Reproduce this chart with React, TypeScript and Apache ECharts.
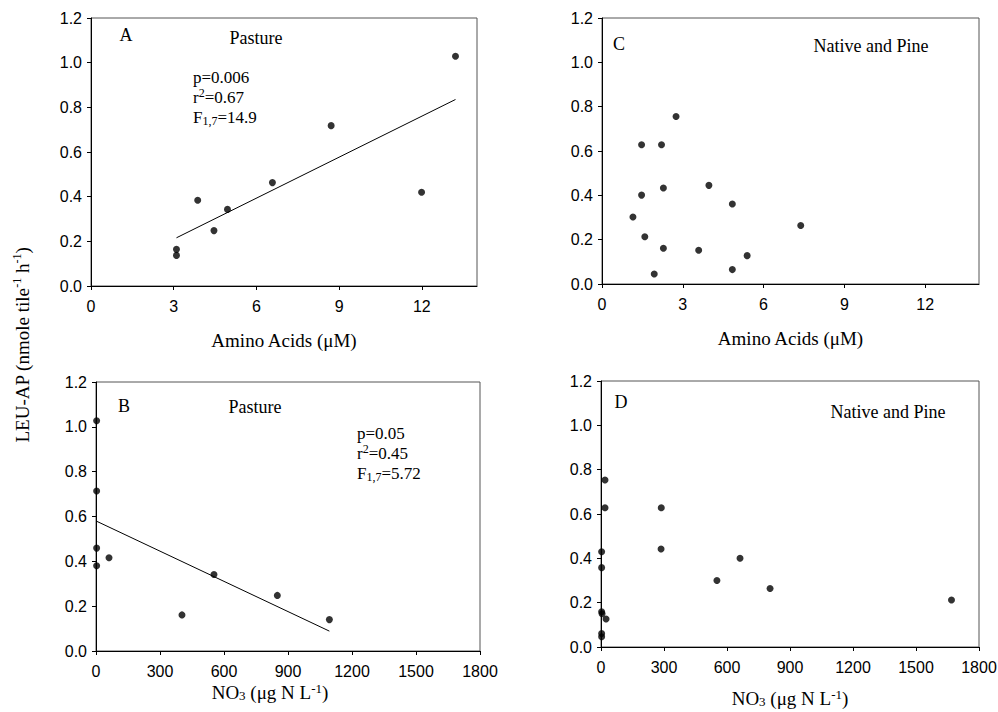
import React, { useEffect, useRef } from "react";
import * as echarts from "echarts";

// Tick values
const aminoTicks = [0, 3, 6, 9, 12];
const nitrateTicks = [0, 300, 600, 900, 1200, 1500, 1800];

// Panel A – Pasture, LEU-AP vs amino acids
const pastureAminoA = [3.1, 3.1, 3.87, 4.46, 4.95, 6.58, 8.71, 11.99, 13.22];
const pastureLeuA = [0.164, 0.137, 0.384, 0.248, 0.343, 0.463, 0.718, 0.42, 1.029];

// Panel B – Pasture, LEU-AP vs NO3
const pastureNitrateB = [3, 3, 3, 3, 61, 403, 553, 850, 1094];
const pastureLeuB = [1.027, 0.714, 0.459, 0.38, 0.416, 0.161, 0.341, 0.248, 0.14];

// Panel C – Native and Pine, LEU-AP vs amino acids
const nativeAminoC = [2.75, 1.47, 2.21, 2.28, 1.47, 3.97, 4.84, 1.15, 7.38, 1.59, 2.28, 3.59, 5.39, 4.84, 1.94];
const nativeLeuC = [0.756, 0.628, 0.628, 0.433, 0.401, 0.445, 0.361, 0.302, 0.264, 0.213, 0.161, 0.152, 0.128, 0.065, 0.045];

// Panel D – Native and Pine, LEU-AP vs NO3
const nativeNitrateD = [19, 19, 3, 3, 287, 286, 662, 552, 805, 1669, 3, 5, 24, 3, 3];
const nativeLeuD = [0.753, 0.628, 0.43, 0.358, 0.628, 0.442, 0.4, 0.3, 0.264, 0.212, 0.159, 0.15, 0.126, 0.061, 0.046];

const SERIF = "'Liberation Serif', 'Times New Roman', Times, serif";
const SANS = "'Liberation Sans', Arial, Helvetica, sans-serif";

function pairs(xs: number[], ys: number[]) {
  return xs.map((x, i) => [x, ys[i]]);
}

function fitLine(xs: number[], ys: number[]) {
  const n = xs.length;
  const mx = xs.reduce((a, b) => a + b, 0) / n;
  const my = ys.reduce((a, b) => a + b, 0) / n;
  let sxy = 0;
  let sxx = 0;
  for (let i = 0; i < n; i++) {
    sxy += (xs[i] - mx) * (ys[i] - my);
    sxx += (xs[i] - mx) * (xs[i] - mx);
  }
  const b = sxy / sxx;
  const a = my - b * mx;
  const x0 = Math.min(...xs);
  const x1 = Math.max(...xs);
  return [
    [x0, a + b * x0],
    [x1, a + b * x1],
  ];
}

const subStyle = { fontFamily: SERIF, fontSize: 12, lineHeight: 10, verticalAlign: "bottom", color: "#000", fill: "#000" };
const supStyle = { fontFamily: SERIF, fontSize: 12, lineHeight: 10, verticalAlign: "top", color: "#000", fill: "#000" };

function buildOption() {
  const grids = [
    { left: 91, top: 18, width: 386, height: 268 },
    { left: 96, top: 382, width: 384, height: 269 },
    { left: 602, top: 18, width: 377, height: 266 },
    { left: 601, top: 381, width: 378, height: 266 },
  ].map((g) => ({
    ...g,
    show: true,
    borderColor: "#555",
    borderWidth: 1,
    containLabel: false,
    outerBoundsMode: "none",
  }));

  const axisCommon = {
    axisLine: { show: true, onZero: false, lineStyle: { color: "#000", width: 1 } },
    axisTick: { show: true, inside: false, length: 4, lineStyle: { color: "#000", width: 1 } },
    splitLine: { show: false },
  };

  const nameRich = {
    sub: { ...subStyle, fontSize: 13, lineHeight: 12 },
    sup: { ...supStyle, fontSize: 13, lineHeight: 12 },
  };

  const xAmino = (gridIndex: number, gap: number) => ({
    type: "value",
    gridIndex,
    min: 0,
    max: 14,
    interval: 3,
    ...axisCommon,
    axisTick: { ...axisCommon.axisTick, customValues: aminoTicks },
    axisLabel: {
      customValues: aminoTicks,
      margin: 12,
      fontFamily: SANS,
      fontSize: 16,
      color: "#000",
      formatter: (v: number) => String(v),
    },
    name: "Amino Acids (μM)",
    nameLocation: "middle",
    nameGap: gap,
    nameTextStyle: { fontFamily: SERIF, fontSize: 19, color: "#000", lineHeight: 20 },
  });

  const xNitrate = (gridIndex: number, gap: number, padRight: number) => ({
    type: "value",
    gridIndex,
    min: 0,
    max: 1800,
    interval: 300,
    ...axisCommon,
    axisTick: { ...axisCommon.axisTick, customValues: nitrateTicks },
    axisLabel: {
      customValues: nitrateTicks,
      margin: 12,
      fontFamily: SANS,
      fontSize: 16,
      color: "#000",
      formatter: (v: number) => String(v),
    },
    name: "NO{sub|3} (μg N L{sup|-1})",
    nameLocation: "middle",
    nameGap: gap,
    nameTextStyle: {
      fontFamily: SERIF,
      fontSize: 19,
      color: "#000",
      lineHeight: 20,
      padding: [0, padRight, 0, 0],
      rich: nameRich,
    },
  });

  const yLeu = (gridIndex: number) => ({
    type: "value",
    gridIndex,
    min: 0,
    max: 1.2,
    interval: 0.2,
    ...axisCommon,
    axisLabel: {
      margin: 9,
      fontFamily: SANS,
      fontSize: 16,
      color: "#000",
      formatter: (v: number) => v.toFixed(1),
    },
  });

  const scatter = (idx: number, xs: number[], ys: number[]) => ({
    type: "scatter",
    xAxisIndex: idx,
    yAxisIndex: idx,
    data: pairs(xs, ys),
    symbol: "circle",
    symbolSize: 7,
    itemStyle: { color: "#000" },
    z: 3,
  });

  const regression = (idx: number, xs: number[], ys: number[]) => ({
    type: "line",
    xAxisIndex: idx,
    yAxisIndex: idx,
    data: fitLine(xs, ys),
    symbol: "none",
    lineStyle: { color: "#000", width: 1 },
    z: 2,
  });

  const txt = (text: string, x: number, y: number, size: number, align = "center", vAlign = "middle", extra: any = {}) => ({
    type: "text",
    x,
    y,
    silent: true,
    style: {
      text,
      fontFamily: SERIF,
      fontSize: size,
      fill: "#000",
      align,
      verticalAlign: vAlign,
      ...(extra.styleExtra || {}),
    },
  });

  const statRich = {
    sub: { ...subStyle },
    sup: { ...supStyle },
  };

  const graphic = [
    // Shared y-axis title
    {
      type: "text",
      x: 22,
      y: 345,
      rotation: Math.PI / 2,
      silent: true,
      style: {
        text: "LEU-AP (nmole tile{sup|-1} h{sup|-1})",
        fontFamily: SERIF,
        fontSize: 19,
        lineHeight: 22,
        fill: "#000",
        align: "center",
        verticalAlign: "middle",
        rich: { sup: { ...supStyle, fontSize: 12, lineHeight: 11 } },
      },
    },
    // Panel A
    txt("A", 126, 35, 18),
    txt("Pasture", 256, 38, 18),
    txt("p=0.006\nr{sup|2}=0.67\nF{sub|1,7}=14.9", 193, 67, 17, "left", "top", {
      styleExtra: { lineHeight: 20, rich: statRich },
    }),
    // Panel B
    txt("B", 124, 406, 18),
    txt("Pasture", 255, 407, 18),
    txt("p=0.05\nr{sup|2}=0.45\nF{sub|1,7}=5.72", 357, 423, 17, "left", "top", {
      styleExtra: { lineHeight: 20, rich: statRich },
    }),
    // Panel C
    txt("C", 619, 44, 18),
    txt("Native and Pine", 871, 46, 18),
    // Panel D
    txt("D", 621, 402, 18),
    txt("Native and Pine", 888, 412, 18),
  ];

  return {
    animation: false,
    backgroundColor: "#fff",
    grid: grids,
    xAxis: [xAmino(0, 44), xNitrate(1, 31, 36), xAmino(2, 44), xNitrate(3, 41, 0)],
    yAxis: [yLeu(0), yLeu(1), yLeu(2), yLeu(3)],
    series: [
      scatter(0, pastureAminoA, pastureLeuA),
      regression(0, pastureAminoA, pastureLeuA),
      scatter(1, pastureNitrateB, pastureLeuB),
      regression(1, pastureNitrateB, pastureLeuB),
      scatter(2, nativeAminoC, nativeLeuC),
      scatter(3, nativeNitrateD, nativeLeuD),
    ],
    graphic,
  };
}

export default function App() {
  const ref = useRef<HTMLDivElement>(null);
  useEffect(() => {
    document.body.style.margin = "0";
    if (!ref.current) return;
    const chart = echarts.init(ref.current, undefined, { renderer: "svg" });
    chart.setOption(buildOption() as any);
    return () => {
      chart.dispose();
    };
  }, []);
  return <div ref={ref} style={{ width: 998, height: 712 }} />;
}
